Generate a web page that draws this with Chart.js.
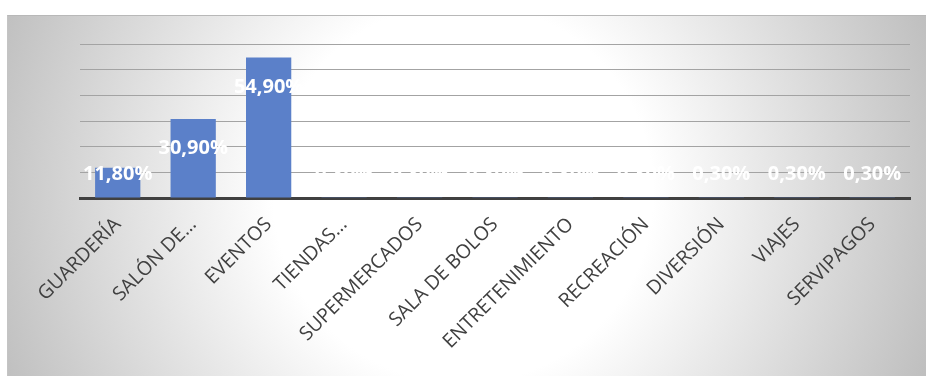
<!DOCTYPE html>
<html>
<head>
<meta charset="utf-8">
<script src="https://cdn.jsdelivr.net/npm/chart.js@4"></script>
<style>
    html, body {
        margin: 0;
        padding: 0;
        background: #ffffff;
        width: 926px;
        height: 379px;
        overflow: hidden;
    }

    #frame {
        position: absolute;
        left: 7px;
        top: 15px;
        width: 918px;
        height: 360px;
        border-top: 1px solid #b8b8b8;
        border-left: 1px solid #c4c4c4;
    }
</style>
</head>
<body>
<div id="frame">
    <canvas id="chart"></canvas>
</div>

<script>
const categories = [
    'GUARDERÍA',
    'SALÓN DE…',
    'EVENTOS',
    'TIENDAS…',
    'SUPERMERCADOS',
    'SALA DE BOLOS',
    'ENTRETENIMIENTO',
    'RECREACIÓN',
    'DIVERSIÓN',
    'VIAJES',
    'SERVIPAGOS'
]

const shares = [
    11.8, 30.9, 54.9, 0.3, 0.3, 0.3, 0.3, 0.3, 0.3, 0.3, 0.3
]

const gridSteps = [
    10, 20, 30, 40, 50, 60
]

function percentText(v) {
    return v.toFixed(2).replace('.', ',') + '%'
}

// soft grey radial backdrop behind the whole chart
const backdropPlugin = {
    id: 'backdrop',
    beforeDraw(chart) {
        const { ctx, width, height } = chart
        const cx = 455
        const cy = 177
        const g = ctx.createRadialGradient(cx, cy, 190, cx, cy, 495)
        g.addColorStop(0, '#ffffff')
        g.addColorStop(1, '#bfbfbf')
        ctx.save()
        ctx.fillStyle = g
        ctx.fillRect(0, 0, width, height)
        ctx.restore()
    }
}

// white value labels, tucked just under each bar top
const valueLabelPlugin = {
    id: 'valueLabels',
    afterDatasetsDraw(chart) {
        const { ctx } = chart
        const meta = chart.getDatasetMeta(0)
        const zero = chart.scales.y.getPixelForValue(0)
        const size = 20
        ctx.save()
        ctx.font = 'bold ' + size + 'px "Open Sans"'
        ctx.fillStyle = '#ffffff'
        ctx.textAlign = 'center'
        ctx.textBaseline = 'alphabetic'
        meta.data.forEach((bar, i) => {
            const mid = Math.min(bar.y + 28, zero - 25.5)
            ctx.fillText(percentText(shares[i]), bar.x, mid + size * 0.36)
        })
        ctx.restore()
    }
}

new Chart(
    document.getElementById('chart'),
    {
        type: 'bar',

        data: {
            labels: categories,
            datasets: [
                {
                    data: shares,
                    backgroundColor: '#5b80c9',
                    borderWidth: 0,
                    categoryPercentage: 1,
                    barPercentage: 0.6
                }
            ]
        },

        options: {
            responsive: true,
            maintainAspectRatio: false,
            animation: false,
            layout: {
                padding: {
                    left: 72,
                    right: 16,
                    top: 28.4,
                    bottom: 0
                }
            },
            plugins: {
                legend: { display: false },
                tooltip: { enabled: false }
            },
            scales: {
                x: {
                    grid: { display: false },
                    border: {
                        display: true,
                        color: '#404040',
                        width: 3
                    },
                    ticks: {
                        autoSkip: false,
                        minRotation: 45,
                        maxRotation: 45,
                        padding: 7,
                        color: '#404040',
                        font: {
                            family: '"Open Sans"',
                            size: 19.5
                        }
                    },
                    afterFit(scale) {
                        scale.height = 178
                    }
                },
                y: {
                    min: 0,
                    max: 60,
                    afterBuildTicks(scale) {
                        scale.ticks = [0, ...gridSteps].map(v => ({ value: v }))
                    },
                    ticks: { display: false },
                    border: { display: false },
                    grid: {
                        drawTicks: false,
                        lineWidth: 1,
                        color: c => c.tick.value === 0 ? 'rgba(0,0,0,0)' : '#a3a3a3'
                    },
                    afterFit(scale) {
                        scale.width = 0
                    }
                }
            }
        },

        plugins: [backdropPlugin, valueLabelPlugin]
    }
)
</script>
</body>
</html>
